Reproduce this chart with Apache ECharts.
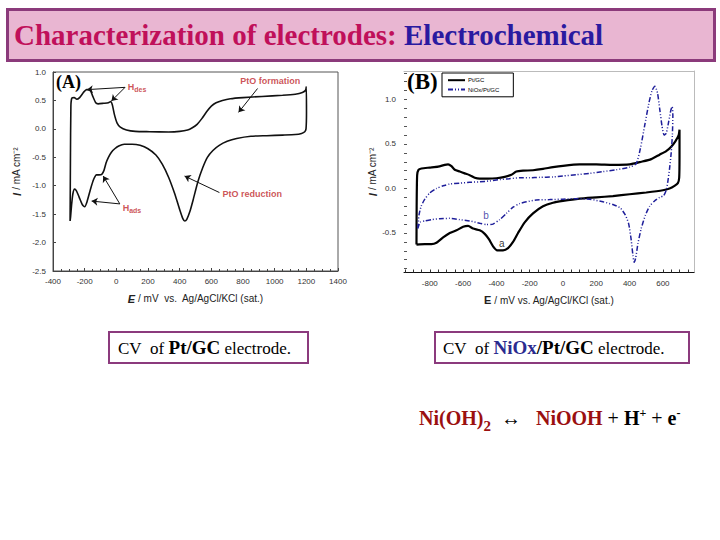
<!DOCTYPE html>
<html><head><meta charset="utf-8">
<script src="https://cdn.jsdelivr.net/npm/echarts@6/dist/echarts.min.js"></script>
<style>
html,body{margin:0;padding:0;background:#fff;}
#wrap{position:relative;width:720px;height:540px;overflow:hidden;font-family:"Liberation Serif","Times New Roman",serif;}
#chart{position:absolute;left:0;top:0;width:720px;height:540px;}
.titlebox{position:absolute;left:6px;top:8px;width:704px;height:48px;border:3px solid #8b3a7b;background:#e9b6d2;}
.titlebox span.t{position:absolute;left:5px;top:0;line-height:48px;font-size:29px;font-weight:bold;white-space:nowrap;}
.cap{position:absolute;top:331px;height:29px;border:2px solid #8b3a7d;background:#fff;line-height:29px;font-size:17px;white-space:nowrap;color:#000;}
.cap b{font-size:19px;}
.lab{position:absolute;font-weight:bold;color:#000;white-space:nowrap;}
.eq{position:absolute;left:419px;top:399px;font-size:20px;font-weight:bold;white-space:nowrap;line-height:28px;}
</style></head>
<body><div id="wrap">
<div id="chart"></div>
<div class="titlebox"><span class="t"><span style="color:#c0105a">Characterization of electrodes:</span> <span style="color:#2a1aa0">Electrochemical</span></span></div>
<div class="lab" style="left:56px;top:72px;font-size:18px;">(A)</div>
<div class="lab" style="left:407px;top:69px;font-size:23px;">(B)</div>
<div class="cap" style="left:108px;width:197px;"><span style="padding-left:8px">CV&nbsp; of <b>Pt/GC</b> electrode.</span></div>
<div class="cap" style="left:434px;width:252px;"><span style="padding-left:7px">CV&nbsp; of <b style="color:#2b2b8f">NiOx</b><b>/Pt/GC</b> electrode.</span></div>
<div class="eq"><span style="color:#9b1010">Ni(OH)<sub style="font-size:15px;vertical-align:-6px">2</sub></span>&nbsp; <span style="font-weight:normal">↔</span> &nbsp;&nbsp;<span style="color:#9b1010">NiOOH</span> <span style="font-weight:normal">+</span> H<sup style="font-size:12px">+</sup> <span style="font-weight:normal">+</span> e<sup style="font-size:12px">-</sup></div>
</div>
<script>
// ---------- DATA ----------
// (A) Pt/GC CV : [E (mV), I (mA cm-2)]
const ptA_anodic = [[-292,-1.62],[-290,-0.6],[-287,0.4],[-281,0.54],[-266,0.55],[-250,0.52],[-232,0.55],[-205,0.65],[-188,0.69],[-168,0.69],[-150,0.58],[-130,0.46],[-115,0.44],[-80,0.45],[-50,0.46],[-36,0.48],[-25,0.42],[-12,0.25],[5,0.1],[25,0.03],[64,-0.02],[120,-0.045],[210,-0.05],[330,-0.055],[400,-0.045],[450,-0.02],[480,0.02],[510,0.08],[540,0.18],[570,0.3],[600,0.4],[630,0.46],[670,0.5],[720,0.53],[800,0.55],[920,0.57],[1050,0.59],[1130,0.61],[1175,0.64],[1195,0.68],[1200,0.74]];
const ptA_cathodic = [[1200,0.74],[1201,0.3],[1198,0.0],[1190,-0.05],[1170,-0.08],[1130,-0.1],[1050,-0.11],[950,-0.12],[850,-0.13],[760,-0.17],[700,-0.22],[650,-0.29],[610,-0.38],[575,-0.5],[546,-0.68],[515,-0.93],[485,-1.25],[465,-1.45],[445,-1.59],[432,-1.62],[420,-1.58],[400,-1.42],[370,-1.15],[330,-0.85],[290,-0.62],[250,-0.46],[200,-0.35],[150,-0.29],[100,-0.27],[50,-0.27],[15,-0.3],[-10,-0.35],[-31,-0.41],[-50,-0.5],[-65,-0.6],[-78,-0.73],[-92,-0.8],[-110,-0.81],[-125,-0.81],[-145,-0.9],[-165,-1.08],[-185,-1.28],[-200,-1.37],[-215,-1.33],[-235,-1.2],[-252,-1.09],[-264,-1.06],[-275,-1.15],[-283,-1.35],[-289,-1.55],[-292,-1.62]];
// (B) Pt/GC (a) and NiOx/Pt/GC (b)
const ptB_anodic = [[-880,-0.63],[-879,-0.2],[-876,0.15],[-868,0.21],[-850,0.225],[-800,0.235],[-750,0.245],[-710,0.265],[-690,0.27],[-670,0.25],[-650,0.21],[-620,0.19],[-590,0.17],[-560,0.15],[-530,0.12],[-500,0.11],[-450,0.11],[-400,0.115],[-350,0.13],[-310,0.155],[-280,0.19],[-240,0.2],[-180,0.205],[-120,0.22],[-60,0.24],[0,0.255],[100,0.27],[200,0.27],[300,0.265],[400,0.27],[470,0.3],[530,0.33],[580,0.38],[620,0.42],[650,0.47],[675,0.53],[695,0.6],[700,0.66]];
const ptB_cathodic = [[700,0.66],[700,0.35],[698,0.12],[690,0.06],[670,0.03],[640,0.0],[600,-0.02],[500,-0.045],[400,-0.065],[300,-0.085],[200,-0.1],[100,-0.115],[0,-0.14],[-60,-0.16],[-120,-0.2],[-180,-0.28],[-230,-0.38],[-270,-0.5],[-300,-0.6],[-330,-0.67],[-360,-0.695],[-395,-0.695],[-420,-0.65],[-445,-0.57],[-470,-0.51],[-500,-0.47],[-540,-0.45],[-570,-0.42],[-600,-0.43],[-640,-0.47],[-680,-0.5],[-720,-0.55],[-760,-0.61],[-790,-0.625],[-830,-0.625],[-880,-0.63]];
const niB_anodic = [[-872,-0.45],[-865,-0.3],[-852,-0.2],[-830,-0.12],[-800,-0.05],[-760,0.0],[-720,0.03],[-680,0.05],[-620,0.06],[-560,0.07],[-500,0.075],[-440,0.085],[-380,0.1],[-320,0.11],[-260,0.12],[-200,0.12],[-140,0.125],[-60,0.13],[0,0.14],[80,0.155],[160,0.17],[240,0.19],[320,0.21],[400,0.24],[440,0.28],[465,0.45],[490,0.7],[515,0.95],[535,1.1],[552,1.15],[568,1.07],[582,0.88],[595,0.7],[607,0.6],[620,0.62],[635,0.75],[648,0.88],[656,0.92],[660,0.82],[657,0.6],[650,0.4],[640,0.22],[630,0.08],[620,-0.02],[605,-0.08]];
const niB_cathodic = [[605,-0.08],[580,-0.1],[550,-0.14],[520,-0.2],[495,-0.3],[470,-0.45],[450,-0.62],[437,-0.78],[428,-0.83],[420,-0.75],[410,-0.58],[395,-0.4],[375,-0.3],[345,-0.22],[300,-0.18],[240,-0.15],[160,-0.12],[80,-0.115],[0,-0.12],[-80,-0.125],[-160,-0.13],[-220,-0.15],[-260,-0.17],[-300,-0.21],[-340,-0.28],[-380,-0.35],[-420,-0.4],[-460,-0.405],[-500,-0.39],[-560,-0.365],[-620,-0.35],[-680,-0.335],[-740,-0.34],[-790,-0.35],[-830,-0.365],[-858,-0.38],[-872,-0.45]];
// tick labels / ticks of (B)
const xLabelsB = [-800,-600,-400,-200,0,200,400,600];
const xTicksB = [-950,-900,-850,-800,-750,-700,-650,-600,-550,-500,-450,-400,-350,-300,-250,-200,-150,-100,-50,0,50,100,150,200,250,300,350,400,450,500,550,600,650,700,750];
const yLabelsB = [-0.5,0.0,0.5,1.0];
const yTicksB = [-0.9,-0.8,-0.7,-0.6,-0.5,-0.4,-0.3,-0.2,-0.1,0.0,0.1,0.2,0.3,0.4,0.5,0.6,0.7,0.8,0.9,1.0,1.1,1.2,1.3];
// annotations (data coordinates)
const labelsA = [
  {name:'H{s|des}', value:[72,0.74]},
  {name:'PtO formation', value:[783,0.85]},
  {name:'PtO reduction', value:[670,-1.15]},
  {name:'H{s|ads}', value:[40,-1.39]}
];
const arrowsA = [
  [[55,0.73],[-186,0.69]],
  [[55,0.73],[-31,0.49]],
  [[892,0.71],[772,0.29]],
  [[651,-1.12],[431,-0.83]],
  [[22,-1.32],[-156,-1.27]],
  [[22,-1.32],[-83,-0.83]]
];
const labelsB = [
  {name:'a', value:[-368,-0.616], color:'#000'},
  {name:'b', value:[-462,-0.30], color:'#1e1e9a'}
];

// ---------- CHART ----------
const chart = echarts.init(document.getElementById('chart'), null, {renderer:'svg'});
const axisGrey = '#444';
const nameRich = {b:{fontWeight:'bold', fontStyle:'italic', fontSize:11, fontFamily:'Liberation Sans', color:'#222'}};
const red = '#c0282d';
const plain = v => String(v);
const option = {
  animation:false,
  textStyle:{fontFamily:'Liberation Sans'},
  grid:[
    {left:53, top:72, width:285, height:199, show:true, borderColor:'#555', borderWidth:1, backgroundColor:'transparent'},
    {left:404, top:71, width:290, height:201.5}
  ],
  legend:{
    left:442, top:73, orient:'vertical', data:['Pt/GC','NiOx/Pt/GC'],
    backgroundColor:'#fff', borderColor:'#000', borderWidth:1, padding:[4,14,4,5],
    itemWidth:17, itemHeight:8, itemGap:3,
    itemStyle:{opacity:0},
    textStyle:{fontSize:6, color:'#000', padding:[0,0,0,-2]}
  },
  xAxis:[
    {gridIndex:0, type:'value', min:-400, max:1400, interval:200,
     axisLine:{onZero:false, lineStyle:{color:axisGrey}}, axisTick:{inside:true, length:3, lineStyle:{color:axisGrey}},
     minorTick:{show:true, splitNumber:4, length:2, lineStyle:{color:axisGrey}},
     axisLabel:{fontSize:8, color:'#333', margin:6, formatter:plain}, splitLine:{show:false},
     name:'{b|E} / mV  vs.  Ag/AgCl/KCl (sat.)', nameLocation:'middle', nameGap:22,
     nameTextStyle:{fontSize:10, color:'#222', rich:nameRich}},
    {gridIndex:1, type:'value', min:-955, max:787,
     axisLine:{onZero:false, lineStyle:{color:'#111'}}, axisTick:{inside:true, length:3, customValues:xTicksB, lineStyle:{color:'#333'}},
     axisLabel:{fontSize:8, color:'#333', margin:7, customValues:xLabelsB, formatter:plain}, splitLine:{show:false},
     name:'{b|E} / mV vs. Ag/AgCl/KCl (sat.)', nameLocation:'middle', nameGap:22,
     nameTextStyle:{fontSize:10, color:'#222', rich:{b:{fontWeight:'bold', fontSize:11, color:'#222'}}}},
    {gridIndex:1, type:'value', position:'top', min:-955, max:787,
     axisLine:{onZero:false, lineStyle:{color:'#bbb'}}, axisTick:{show:false}, axisLabel:{show:false}, splitLine:{show:false}}
  ],
  yAxis:[
    {gridIndex:0, type:'value', min:-2.5, max:1.0, interval:0.5,
     axisLine:{onZero:false, lineStyle:{color:axisGrey}}, axisTick:{inside:true, length:3, lineStyle:{color:axisGrey}},
     axisLabel:{fontSize:8, color:'#333', margin:7, formatter:v=>v.toFixed(1)}, splitLine:{show:false},
     name:'{b|I} / mA cm⁻²', nameLocation:'middle', nameGap:31,
     nameTextStyle:{fontSize:10, color:'#222', rich:nameRich}},
    {gridIndex:1, type:'value', min:-0.944, max:1.32,
     axisLine:{show:false, onZero:false}, axisTick:{show:true, inside:true, length:3, customValues:yTicksB, lineStyle:{color:'#555'}},
     axisLabel:{fontSize:8, color:'#333', margin:8, customValues:yLabelsB, formatter:v=>v.toFixed(1)}, splitLine:{show:false},
     name:'{b|I} / mA cm⁻²', nameLocation:'middle', nameGap:26,
     nameTextStyle:{fontSize:10, color:'#222', rich:nameRich}},
    {gridIndex:1, type:'value', position:'right', min:-0.944, max:1.32,
     axisLine:{show:true, onZero:false, lineStyle:{color:'#bbb'}}, axisTick:{show:false}, axisLabel:{show:false}, splitLine:{show:false}}
  ],
  series:[
    {name:'Pt/GC (A)', type:'line', xAxisIndex:0, yAxisIndex:0, data:ptA_anodic.concat(ptA_cathodic.slice(1)),
     symbol:'none', smooth:0.2, lineStyle:{color:'#111', width:1.6}, silent:true},
    {name:'Pt/GC', type:'line', xAxisIndex:1, yAxisIndex:1, data:ptB_anodic.concat(ptB_cathodic.slice(1)),
     symbol:'none', smooth:0.2, itemStyle:{color:'#000'}, lineStyle:{color:'#000', width:2.2}, silent:true},
    {name:'NiOx/Pt/GC', type:'line', xAxisIndex:1, yAxisIndex:1, data:niB_anodic.concat(niB_cathodic.slice(1)),
     symbol:'none', smooth:0.2, itemStyle:{color:'#1e1e9a'}, lineStyle:{color:'#1e1e9a', width:1.5, type:[5,2,1,2,1,2]}, silent:true},
    {name:'arrowsA', type:'lines', coordinateSystem:'cartesian2d', xAxisIndex:0, yAxisIndex:0,
     data:arrowsA.map(c=>({coords:c})), symbol:['none','arrow'], symbolSize:6,
     lineStyle:{color:'#111', width:1, opacity:1}, silent:true},
    {name:'labelsA', type:'scatter', xAxisIndex:0, yAxisIndex:0, symbolSize:0, data:labelsA, silent:true,
     label:{show:true, position:'right', distance:0, formatter:p=>p.name, color:red, fontWeight:'bold', fontSize:9,
       rich:{s:{fontSize:7, fontWeight:'bold', color:red, padding:[6,0,0,0]}}}},
    {name:'labelsB', type:'scatter', xAxisIndex:1, yAxisIndex:1, symbolSize:0, silent:true,
     data:labelsB.map(d=>({name:d.name, value:d.value, label:{color:d.color}})),
     label:{show:true, position:'inside', formatter:p=>p.name, fontSize:10}}
  ]
};
chart.setOption(option);
</script>
</body></html>
